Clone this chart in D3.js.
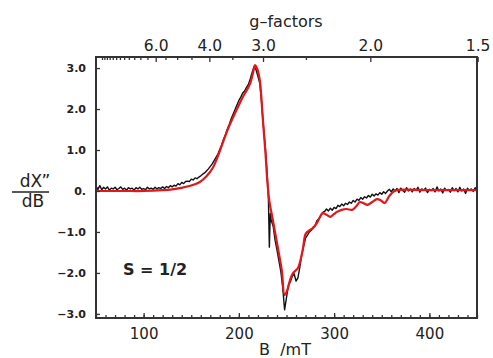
<!DOCTYPE html>
<html><head><meta charset="utf-8">
<script src="https://cdn.jsdelivr.net/npm/d3@7/dist/d3.min.js"></script>
<style>
html,body{margin:0;padding:0;background:#fff;}
svg text{font-family:"DejaVu Sans",sans-serif;fill:#222;}
</style></head>
<body>
<svg id="chart" width="493" height="358"></svg>
<script>
// Experimental trace (black): [B (mT), dX''/dB]
const expB = [50,52,54,56,58,60,62,64,66,68,70,72,74,76,78,80,82,84,86,88,90,92,94,96,98,100,102,104,106,108,110,112,114,116,118,120,122,124,126,128,130,132,134,136,138,140,142,144,146,148,150,152,154,156,158,160,162,164,166,168,170,172,174,176,178,180,182,184,186,188,190,192,194,196,198,200,202,204,206,208,210,212,214,216,218,220,222,224,226,228,230,231,232,233,234,236,238,240,242,244,246,248,250,252,254,256,258,260,262,264,266,268,270,272,274,276,278,280,282,284,286,288,290,292,294,296,298,300,302,304,306,308,310,312,314,316,318,320,322,324,326,328,330,332,334,336,338,340,342,344,346,348,350,352,354,356,358,360,362,364,366,368,370,372,374,376,378,380,382,384,386,388,390,392,394,396,398,400,402,404,406,408,410,412,414,416,418,420,422,424,426,428,430,432,434,436,438,440,442,444,446,448,450];
const expY = [0.12,0.04,0.13,0.03,0.09,0.05,0.10,0.02,0.07,0.05,0.09,0.03,0.06,0.10,0.04,0.07,0.02,0.08,0.05,0.07,0.02,0.08,0.05,0.09,0.04,0.06,0.03,0.09,0.05,0.07,0.04,0.09,0.05,0.08,0.06,0.10,0.06,0.11,0.08,0.13,0.10,0.14,0.12,0.18,0.15,0.21,0.18,0.23,0.24,0.23,0.29,0.27,0.32,0.30,0.34,0.37,0.41,0.44,0.49,0.54,0.60,0.66,0.74,0.82,0.90,1.02,1.13,1.27,1.38,1.52,1.63,1.77,1.88,1.99,2.10,2.21,2.29,2.39,2.44,2.53,2.60,2.74,2.90,3.04,2.96,2.80,2.62,2.12,1.52,1.00,0.30,-0.20,-1.37,-0.55,-0.72,-0.86,-1.20,-1.44,-1.70,-1.96,-2.35,-2.90,-2.60,-2.30,-2.22,-2.08,-2.02,-2.20,-2.12,-1.86,-1.55,-1.35,-1.15,-1.08,-1.00,-0.96,-0.88,-0.85,-0.72,-0.68,-0.60,-0.52,-0.50,-0.44,-0.49,-0.42,-0.47,-0.40,-0.43,-0.35,-0.38,-0.32,-0.36,-0.30,-0.33,-0.27,-0.30,-0.23,-0.27,-0.20,-0.23,-0.16,-0.20,-0.14,-0.17,-0.11,-0.15,-0.08,-0.12,-0.07,-0.10,-0.04,-0.08,-0.02,-0.06,0.00,0.04,-0.02,0.05,0.00,0.06,-0.04,0.07,0.01,-0.03,0.08,0.00,0.05,-0.02,0.06,0.01,0.09,-0.03,0.05,0.02,0.07,-0.04,0.04,0.01,0.06,-0.02,0.10,0.00,0.05,-0.05,0.07,0.02,0.04,-0.03,0.08,0.01,0.06,-0.02,0.09,0.00,0.05,-0.06,0.07,0.02,0.05,-0.01,0.08,0.00,0.04,-0.03,0.06,0.01];

// Simulated spectrum (red)
const simB = [50,80,100,120,130,138,148,159,166,173,178,183,188,194,199,204,208,212,215,217,219,222,225,228,230,232,235,240,245,248,251,254,257,262,267,270,273,278,282,285,288,292,296,300,303,308,313,319,323,327,331,335,340,345,349,353,358,362,366,400,450];
const simY = [0.0,0.0,0.0,0.02,0.04,0.07,0.12,0.22,0.36,0.58,0.85,1.17,1.48,1.80,2.05,2.29,2.45,2.63,2.90,3.07,3.00,2.70,1.80,0.90,0.20,-0.25,-0.63,-1.27,-1.93,-2.54,-2.41,-2.15,-2.00,-1.88,-1.44,-1.05,-0.98,-0.90,-0.78,-0.64,-0.54,-0.58,-0.63,-0.56,-0.51,-0.46,-0.44,-0.46,-0.38,-0.27,-0.30,-0.34,-0.27,-0.20,-0.23,-0.29,-0.12,-0.02,0.02,0.02,0.02];

const yTicks = [3,2,1,0,-1,-2,-3];
const yTickLabels = ["3.0","2.0","1.0","0.","\u22121.0","\u22122.0","\u22123.0"];
const xMajor = [100,200,300,400];
const gMajor = [6.0,4.0,3.0,2.0,1.5];
const gMajorLabels = ["6.0","4.0","3.0","2.0","1.5"];
const gMinor = [12,11.5,11,10.5,10,9.5,9,8.5,8,7.5,7,6.5,5.5,5,4.5,3.5,2.5];
const hvOverMuB = 676; // mT, B = hv/(g*muB)

const svg = d3.select("#chart");
const L=96,R=477,T=57,Bt=318;
const x = d3.scaleLinear().domain([50,450]).range([L,R]);
const y = d3.scaleLinear().domain([-3.1,3.27]).range([Bt,T]);

const axisColor="#333";
// clip
svg.append("defs").append("clipPath").attr("id","clip").append("rect")
  .attr("x",L).attr("y",T).attr("width",R-L).attr("height",Bt-T);

const plot = svg.append("g").attr("clip-path","url(#clip)");
const exp = expB.map((b,i)=>[b,expY[i]]);
const sim = simB.map((b,i)=>[b,simY[i]]);
plot.append("path").datum(exp)
  .attr("d",d3.line().x(d=>x(d[0])).y(d=>y(d[1])))
  .attr("fill","none").attr("stroke","#111").attr("stroke-width",1.4).attr("stroke-linejoin","round");
plot.append("path").datum(sim)
  .attr("d",d3.line().curve(d3.curveCatmullRom.alpha(0.5)).x(d=>x(d[0])).y(d=>y(d[1])))
  .attr("fill","none").attr("stroke","#e3161b").attr("stroke-width",2.2).attr("stroke-linejoin","round");

// bottom axis (ticks inward)
const bottom = svg.append("g").attr("transform",`translate(0,${Bt})`)
  .call(d3.axisBottom(x).tickValues(d3.range(50,451,10)).tickSize(-3).tickFormat(""));
const bottomMaj = svg.append("g").attr("transform",`translate(0,${Bt})`)
  .call(d3.axisBottom(x).tickValues(xMajor).tickSize(-5).tickPadding(10).tickFormat(d3.format("d")));
// top axis in g-factors
const gx = g => x(hvOverMuB/g);
const topMin = svg.append("g").attr("transform",`translate(0,${T})`)
  .call(d3.axisTop(d3.scaleIdentity()).tickValues(gMinor.map(gx)).tickSize(-3).tickFormat(""));
const topMaj = svg.append("g").attr("transform",`translate(0,${T})`)
  .call(d3.axisTop(d3.scaleIdentity()).tickValues(gMajor.map(gx)).tickSize(-5).tickPadding(6)
     .tickFormat((d,i)=>gMajorLabels[i]));
// left axis
const left = svg.append("g").attr("transform",`translate(${L},0)`)
  .call(d3.axisLeft(y).tickValues(yTicks).tickSize(-4).tickPadding(10).tickFormat((d,i)=>yTickLabels[i]));

[bottom,bottomMaj,topMin,topMaj,left].forEach(g=>{
  g.select(".domain").remove();
  g.selectAll(".tick line").attr("stroke",axisColor).attr("stroke-width",1.3);
});
bottomMaj.selectAll("text").attr("font-size",15).attr("fill","#222");
topMaj.selectAll("text").attr("font-size",15.5).attr("fill","#222");
left.selectAll("text").attr("font-size",11).attr("font-weight","bold").attr("fill","#222");

// frame
svg.append("rect").attr("x",L).attr("y",T).attr("width",R-L).attr("height",Bt-T)
  .attr("fill","none").attr("stroke",axisColor).attr("stroke-width",2);

// titles
svg.append("text").attr("x",286).attr("y",27).attr("text-anchor","middle").attr("font-size",16).text("g\u2013factors");
svg.append("text").attr("x",285).attr("y",355).attr("text-anchor","middle").attr("font-size",16).text("B  /mT").style("white-space","pre");
svg.append("text").attr("x",35).attr("y",187).attr("text-anchor","middle").attr("font-size",17).text("dX\u201D");
svg.append("line").attr("x1",12).attr("x2",49).attr("y1",192).attr("y2",192).attr("stroke","#222").attr("stroke-width",1.3);
svg.append("text").attr("x",33).attr("y",207).attr("text-anchor","middle").attr("font-size",17).text("dB");
svg.append("text").attr("x",123).attr("y",275).attr("font-size",16).attr("font-weight","bold").text("S = 1/2");
</script>
</body></html>
